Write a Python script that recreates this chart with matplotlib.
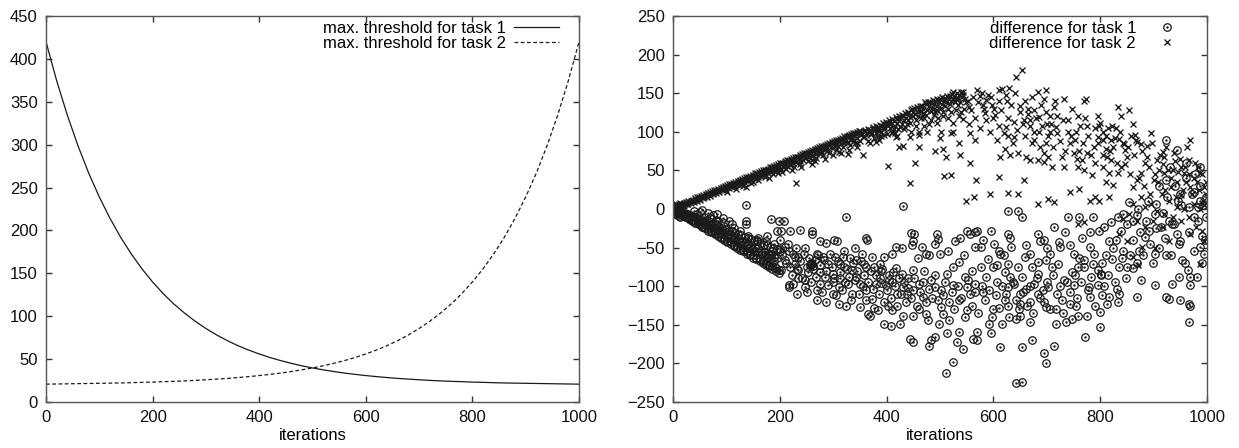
import matplotlib
matplotlib.use("Agg")
import matplotlib.pyplot as plt
from matplotlib.legend_handler import HandlerTuple

plt.rcParams['font.family'] = ['Liberation Sans', 'DejaVu Sans']
plt.rcParams['font.size'] = 12

INK = '#1a1a1a'

# left panel: maximum thresholds, sampled every 20 iterations
thr_iter = list(range(0, 1001, 20))
thr_task1 = [420, 374.6, 334.4, 298.7, 267.0, 239.0, 214.2, 192.1, 172.6, 155.3,
             139.9, 126.3, 114.2, 103.6, 94.1, 85.7, 78.2, 71.6, 65.7, 60.6,
             56.0, 51.9, 48.3, 45.1, 42.2, 39.7, 37.5, 35.5, 33.7, 32.2,
             30.8, 29.6, 28.5, 27.5, 26.7, 25.9, 25.2, 24.6, 24.1, 23.7,
             23.2, 22.9, 22.5, 22.2, 22.0, 21.8, 21.6, 21.4, 21.2, 21.0, 20.8]
thr_task2 = thr_task1[::-1]

# right panel: differences, task 2 (crosses)
d2_origin = [(0, 0), (1, 2), (2, -2), (3, 4), (4, 1), (5, 6), (6, -3), (7, 2), (8, 4),
             (9, -1), (10, 5), (11, -4), (12, 7), (13, 2), (14, 8), (15, -2), (16, 3)]
d2_band = [(0, 0), (2, 1), (4, 1), (6, 2), (8, 2), (10, 3), (12, 3), (14, 4), (16, 5),
           (18, 5), (20, 6), (23, 7), (26, 7), (29, 8), (32, 9), (35, 10), (38, 11),
           (41, 12), (44, 12), (47, 13), (50, 14), (54, 15), (58, 16), (62, 18),
           (66, 19), (70, 20), (74, 21), (78, 22), (82, 23), (86, 24), (90, 26),
           (94, 27), (98, 28), (102, 29), (106, 30), (110, 31), (114, 32), (118, 34),
           (122, 35), (126, 36), (130, 37), (134, 38), (138, 39), (142, 40), (146, 42),
           (150, 43), (154, 44), (158, 45), (162, 46), (166, 47), (170, 48), (174, 50),
           (178, 51), (182, 52), (186, 53), (190, 54), (194, 55), (198, 56), (202, 58),
           (206, 59), (210, 60), (214, 61), (218, 62), (222, 63), (226, 64), (230, 66),
           (234, 67), (238, 68), (242, 69), (246, 70), (250, 71), (254, 72), (258, 74),
           (262, 75), (266, 76), (270, 77), (274, 78), (278, 79), (282, 80), (286, 82),
           (290, 83), (294, 84), (298, 85), (302, 86), (306, 87), (310, 88), (314, 90),
           (318, 91), (322, 92), (326, 93), (330, 94), (334, 95), (338, 96), (342, 97),
           (346, 98), (350, 100)]
d2_band_up = [(1, 2), (5, 3), (9, 4), (13, 5), (17, 6), (21, 8), (25, 9), (29, 10),
              (33, 11), (37, 12), (41, 14), (45, 15), (49, 16), (53, 17), (57, 18),
              (61, 19), (65, 21), (69, 22), (73, 23), (77, 24), (81, 25), (85, 26),
              (89, 27), (93, 29), (97, 30), (101, 31), (105, 32), (109, 33), (113, 34),
              (117, 35), (121, 36), (125, 38), (129, 39), (133, 40), (137, 41), (141, 42),
              (145, 43), (149, 44), (153, 46), (157, 47), (161, 48), (165, 49), (169, 50),
              (173, 51), (177, 52), (181, 54), (185, 55), (189, 56), (193, 57), (197, 58),
              (201, 59), (205, 60), (209, 62), (213, 63), (217, 64), (221, 65), (225, 66),
              (229, 67), (233, 68), (237, 70), (241, 71), (245, 72), (249, 73), (253, 74),
              (257, 75), (261, 76), (265, 78), (269, 79), (273, 80), (277, 81), (281, 82),
              (285, 83), (289, 84), (293, 86), (297, 87), (301, 88), (305, 89), (309, 90),
              (313, 91), (317, 92), (321, 94), (325, 95), (329, 96), (333, 97), (337, 98),
              (341, 99), (345, 100), (349, 101)]
d2_band_low = [(3, -1), (9, 1), (15, 3), (21, 4), (27, 6), (33, 8), (39, 9), (45, 11),
               (51, 12), (57, 14), (63, 16), (69, 17), (75, 19), (81, 21), (87, 22),
               (93, 24), (99, 25), (105, 27), (111, 28), (117, 30), (123, 31), (129, 33),
               (135, 34), (141, 36), (147, 38), (153, 39), (159, 41), (165, 43), (171, 44),
               (177, 46), (183, 48), (189, 49), (195, 51), (201, 52), (207, 54), (213, 56),
               (219, 57), (225, 59), (231, 61), (237, 62), (243, 64), (249, 66), (255, 67),
               (261, 69), (267, 71), (273, 72), (279, 74), (285, 76), (291, 77), (297, 79),
               (303, 81), (309, 82), (315, 84), (321, 86), (327, 87), (333, 89), (339, 90),
               (345, 92), (150, 35), (180, 40), (205, 48), (240, 55), (260, 58), (285, 65),
               (300, 70), (315, 73), (330, 76), (345, 80), (340, 86), (265, 62), (136, 29),
               (230, 34), (202, 52), (222, 50), (261, 64), (328, 71), (356, 70), (310, 74),
               (102, 22), (118, 26), (131, 30), (147, 34), (160, 38), (172, 41), (188, 45),
               (197, 47), (212, 52), (226, 55), (238, 58), (252, 62), (268, 66), (281, 70),
               (292, 72), (305, 76), (318, 80), (331, 83), (344, 86), (350, 88), (120, 32),
               (170, 44), (220, 58), (275, 73), (325, 85)]
d2_fan = [(352, 98), (355, 93), (358, 101), (362, 96), (365, 88), (368, 102), (371, 97),
          (374, 104), (377, 92), (380, 99), (383, 106), (386, 101), (389, 95), (392, 108),
          (395, 103), (398, 110), (401, 97), (404, 112), (407, 105), (410, 100), (413, 114),
          (416, 108), (419, 117), (422, 103), (425, 116), (428, 110), (431, 120), (434, 106),
          (437, 118), (440, 124), (443, 112), (446, 128), (449, 120), (452, 131), (455, 115),
          (458, 126), (461, 129), (464, 118), (467, 133), (470, 124), (473, 136), (476, 128),
          (479, 110), (482, 138), (485, 131), (488, 122), (491, 140), (494, 134), (497, 118),
          (500, 142), (503, 136), (506, 126), (509, 144), (512, 138), (515, 130), (518, 146),
          (521, 140), (524, 112), (527, 147), (530, 143), (533, 135), (536, 148), (539, 125),
          (542, 145), (420, 95), (445, 100), (470, 108), (495, 112), (515, 118), (535, 120),
          (460, 96), (385, 90), (380, 87), (369, 85), (384, 93), (402, 56), (424, 80),
          (430, 82), (444, 34), (453, 60), (461, 80), (491, 75), (512, 67), (507, 43),
          (521, 44), (537, 70), (417, 93), (410, 98), (432, 104), (443, 93), (461, 100),
          (484, 115), (495, 128), (469, 123), (502, 100), (506, 78), (521, 98), (536, 85),
          (351, 101), (354, 97), (357, 95), (360, 102), (363, 99), (366, 104), (369, 100),
          (372, 98), (375, 106), (378, 103), (381, 108), (384, 104), (387, 109), (390, 100),
          (393, 111), (396, 106), (399, 113), (402, 108), (405, 115), (408, 110), (411, 117),
          (414, 104), (417, 119), (420, 112), (423, 121), (426, 106), (429, 122), (432, 115),
          (435, 124), (438, 110), (441, 126), (444, 119), (447, 130), (450, 125), (453, 123),
          (456, 132), (459, 121), (462, 134), (465, 127), (468, 130), (471, 138), (474, 122),
          (477, 139), (480, 133), (483, 127), (486, 141), (489, 136), (492, 128), (495, 143),
          (498, 138), (501, 131), (504, 145), (507, 140), (510, 133), (513, 147), (516, 142),
          (519, 136), (522, 149), (525, 143), (528, 138), (531, 150), (534, 144), (537, 139),
          (540, 151), (543, 148), (546, 142), (549, 138), (440, 115), (455, 108), (470, 118),
          (490, 125), (505, 120), (520, 125), (530, 128), (545, 130), (415, 98), (395, 96),
          (475, 100), (500, 92), (525, 100)]
d2_cloud = [(556, 59), (548, 11), (564, 15), (567, 37), (593, 20), (628, 21), (647, 20),
            (658, 38), (610, 42), (612, 67), (621, 78), (628, 95), (610, 108), (602, 130),
            (596, 145), (610, 154), (616, 155), (630, 157), (643, 171), (654, 180),
            (649, 134), (569, 154), (574, 147), (543, 152), (524, 152), (554, 132),
            (543, 117), (587, 141), (584, 124), (554, 110), (557, 98), (565, 89),
            (684, 152), (699, 154), (695, 143), (676, 128), (665, 123), (669, 115),
            (685, 119), (706, 121), (713, 132), (733, 142), (717, 106), (706, 100),
            (691, 108), (676, 100), (658, 115), (639, 113), (624, 106), (639, 93),
            (673, 85), (688, 80), (699, 85), (661, 67), (669, 63), (684, 63), (695, 61),
            (702, 67), (647, 72), (632, 70), (710, 54), (729, 67), (732, 54), (750, 72),
            (743, 85), (739, 115), (758, 121), (754, 100), (776, 108), (773, 143),
            (770, 140), (795, 121), (798, 108), (806, 100), (795, 93), (788, 80),
            (776, 72), (765, 63), (758, 54), (769, 50), (784, 44), (791, 16), (780, 11),
            (743, 22), (761, 26), (684, 7), (702, 13), (713, 9), (798, 11), (811, 35),
            (817, 46), (813, 67), (820, 63), (824, 80), (820, 89), (806, 89), (811, 78),
            (836, 91), (834, 132), (839, 121), (854, 128), (861, 110), (858, 95),
            (847, 76), (851, 67), (839, 54), (833, 46), (824, 31), (817, 16), (861, 28),
            (869, 37), (876, 46), (884, 59), (891, 54), (888, 82), (895, 98), (876, 84),
            (869, 87), (906, 63), (917, 74), (910, 50), (920, 46), (932, 28), (943, 35),
            (936, 50), (951, 54), (957, 46), (966, 63), (969, 89), (960, 35), (969, 28),
            (984, 54), (987, 46), (994, 28), (924, 80), (920, 67), (951, 18), (976, 7),
            (987, 0), (993, 11), (966, -10), (957, 0), (943, 3), (928, 11), (920, -6),
            (906, -2), (895, 7), (876, 16), (884, 3), (861, 7), (854, -6), (869, -15),
            (884, -23), (899, -15), (917, -23), (928, -41), (936, -10), (951, -15),
            (969, -32), (980, -23), (991, -28), (994, -41), (987, -71), (902, -51),
            (879, -49), (871, -73), (861, -62), (850, -41), (836, -32), (843, -13),
            (769, -17), (758, -19), (580, 135), (600, 118), (625, 140), (660, 140),
            (700, 110), (720, 120), (745, 95), (760, 75), (790, 60), (805, 55), (830, 105),
            (845, 84), (866, 96), (900, 38), (915, 20), (940, 62), (975, 40), (998, 20),
            (552, 140), (558, 128), (562, 145), (566, 118), (571, 138), (575, 105),
            (578, 150), (582, 130), (586, 115), (590, 148), (594, 100), (598, 135),
            (603, 122), (607, 90), (611, 140), (615, 128), (620, 98), (624, 148), (628, 118),
            (633, 135), (637, 85), (641, 150), (645, 102), (650, 125), (655, 110), (660, 95),
            (664, 130), (668, 108), (672, 145), (676, 90), (680, 118), (685, 100), (690, 135),
            (694, 72), (698, 125), (703, 95), (707, 110), (712, 80), (716, 140), (720, 98),
            (725, 88), (730, 115), (735, 75), (740, 100), (748, 130), (752, 90), (757, 65),
            (762, 108), (767, 85), (772, 118), (778, 95), (783, 70), (790, 105), (796, 85),
            (800, 112), (805, 70), (810, 95), (815, 105), (819, 75), (823, 108), (827, 92),
            (831, 60), (838, 100), (842, 85), (846, 58), (852, 80), (856, 45), (863, 70),
            (867, 90), (872, 40), (878, 75), (882, 30), (888, 68), (893, 20), (897, 85),
            (902, 45), (908, 35), (912, 70), (918, 58), (922, 25), (927, 50), (933, 40),
            (938, 72), (942, 15), (946, 48), (950, 65), (955, 25), (959, 55), (963, 80),
            (967, 45), (972, 20), (977, 60), (981, 35), (985, 25), (990, 45), (995, 5),
            (998, 35)]

# right panel: differences, task 1 (circles)
d1_origin = [(0, 0), (1, -2), (2, 2), (3, -4), (4, -1), (5, 3), (6, -6), (7, -2), (8, -8),
             (9, 1), (10, -5), (11, -9), (12, -3), (13, -11), (14, -6), (15, 0), (16, -8)]
d1_band = [(1, -1), (3, -1), (5, -2), (7, -3), (9, -2), (11, -5), (13, -4), (15, -6),
           (17, -5), (19, -8), (21, -6), (24, -10), (27, -7), (30, -12), (33, -9), (36, -14),
           (39, -11), (42, -17), (45, -13), (48, -19), (51, -15), (54, -22), (57, -17),
           (60, -24), (63, -19), (66, -26), (69, -21), (72, -29), (75, -23), (78, -31),
           (81, -25), (84, -33), (87, -27), (90, -36), (93, -29), (96, -38), (99, -30),
           (102, -41), (105, -33), (108, -43), (111, -35), (114, -46), (117, -37),
           (120, -48), (123, -39), (126, -51), (129, -41), (132, -53), (135, -43),
           (138, -56), (141, -45), (144, -58), (147, -47), (150, -60), (153, -49),
           (156, -63), (159, -51), (162, -65), (165, -54), (168, -67), (171, -56),
           (174, -70), (177, -58), (180, -72), (183, -60), (186, -74), (189, -62),
           (192, -77), (195, -64), (198, -79)]
d1_band_edges = [(2, 0), (8, -2), (14, -3), (20, -5), (26, -7), (32, -8), (38, -10),
                 (44, -11), (50, -13), (56, -15), (62, -16), (68, -18), (74, -20),
                 (80, -21), (86, -23), (92, -25), (98, -26), (104, -28), (110, -29),
                 (116, -31), (122, -33), (128, -34), (134, -36), (140, -37), (146, -39),
                 (152, -41), (158, -42), (164, -44), (170, -46), (176, -47), (182, -49),
                 (188, -51), (194, -52), (200, -54), (6, -3), (12, -5), (18, -8), (24, -10),
                 (30, -13), (36, -15), (42, -18), (48, -20), (54, -23), (60, -25), (66, -28),
                 (72, -30), (78, -33), (84, -35), (90, -38), (96, -40), (102, -43),
                 (108, -45), (114, -48), (120, -50), (126, -53), (132, -55), (138, -58),
                 (144, -60), (150, -63), (156, -65), (162, -68), (168, -70), (174, -73),
                 (180, -75), (186, -78), (192, -80), (198, -83)]
d1_band_mid = [(4, -2), (10, -4), (16, -6), (22, -8), (28, -10), (34, -12), (40, -14),
               (46, -16), (52, -18), (58, -20), (64, -22), (70, -25), (76, -27), (82, -29),
               (88, -31), (94, -33), (100, -35), (106, -37), (112, -39), (118, -41),
               (124, -43), (130, -46), (136, -48), (142, -50), (148, -52), (154, -54),
               (160, -56), (166, -58), (172, -60), (178, -62), (184, -64), (190, -67),
               (40, -2), (45, -6), (50, -4), (55, -1), (58, -10), (65, -5), (70, -12),
               (75, -8), (85, -15), (95, -18), (110, -20), (115, -25), (125, -28),
               (140, -35), (160, -38), (175, -42), (190, -45), (82, -7), (93, -12),
               (104, -15), (80, -14), (136, 5), (136, -15), (137, -20)]
d1_cloud = [(324, -10), (430, 4), (647, -3), (628, -3), (653, -10), (199, -15), (208, -15),
            (184, -13), (195, -28), (202, -28), (219, -28), (237, -27), (260, -28),
            (261, -32), (201, -40), (176, -35), (158, -40), (302, -40), (308, -41),
            (287, -44), (276, -42), (361, -37), (364, -40), (417, -49), (410, -58),
            (428, -51), (447, -47), (450, -41), (452, -33), (445, -31), (467, -49),
            (473, -58), (459, -63), (495, -32), (496, -39), (500, -58), (491, -45),
            (528, -41), (538, -38), (550, -28), (556, -32), (565, -30), (569, -28),
            (580, -40), (576, -49), (565, -49), (601, -45), (610, -54), (613, -58),
            (595, -28), (628, -32), (632, -38), (633, -49), (628, -71), (606, -73),
            (661, -47), (669, -58), (684, -32), (688, -41), (694, -40), (684, -69),
            (699, -66), (706, -58), (713, -23), (722, -43), (724, -49), (739, -10),
            (743, -47), (750, -58), (765, -38), (758, -75), (761, -64), (769, -66),
            (787, -10), (780, -49), (788, -58), (787, -71), (795, -79), (802, -84),
            (798, -28), (807, -23), (817, -41), (824, -51), (820, -17), (834, -10),
            (839, -28), (840, -64), (843, -6), (854, 9), (861, -15), (869, -8),
            (884, -36), (891, -28), (902, -6), (904, 7), (924, 37), (924, 89), (931, 54),
            (943, 76), (987, 54), (950, 20), (976, 22), (987, 11), (999, 16), (966, 3),
            (984, 3), (913, -23), (928, -15), (943, -32), (950, -41), (954, -66),
            (964, -79), (969, -88), (982, -88), (987, -49), (994, -58), (902, -58),
            (873, -54), (861, -77), (850, -75), (876, -92), (902, -99), (935, -97),
            (924, -60), (924, -114), (929, -116), (966, -123), (966, -146), (969, -125),
            (969, -99), (950, -118), (947, -88), (869, -114), (834, -120), (836, -110),
            (832, -103), (817, -114), (813, -123), (804, -112), (799, -133), (799, -153),
            (802, -86), (779, -101), (780, -114), (776, -138), (771, -166), (754, -125),
            (758, -138), (743, -123), (747, -142), (736, -146), (729, -118), (717, -129),
            (717, -149), (713, -177), (702, -101), (695, -120), (699, -127), (695, -187),
            (699, -200), (684, -110), (676, -97), (669, -120), (669, -146), (673, -170),
            (653, -88), (661, -103), (650, -110), (650, -123), (650, -138), (643, -142),
            (653, -179), (653, -224), (642, -226), (632, -88), (628, -101), (628, -125),
            (621, -118), (616, -149), (613, -179), (599, -75), (599, -129), (595, -161),
            (591, -149), (580, -108), (569, -159), (569, -170), (561, -168), (557, -110),
            (551, -101), (550, -131), (543, -181), (536, -118), (536, -159), (531, -172),
            (524, -99), (517, -144), (513, -161), (524, -198), (511, -213), (502, -105),
            (502, -127), (506, -136), (499, -149), (491, -166), (480, -177), (484, -170),
            (469, -114), (473, -136), (477, -144), (461, -129), (450, -138), (450, -172),
            (443, -168), (450, -105), (439, -110), (426, -149), (431, -138), (410, -131),
            (402, -125), (395, -149), (408, -151), (384, -131), (373, -116), (369, -138),
            (365, -136), (350, -127), (336, -110), (324, -125), (310, -123), (299, -110),
            (287, -120), (269, -118), (250, -108), (247, -92), (217, -99), (224, -97),
            (235, -90), (269, -105), (276, -82), (284, -88), (299, -84), (313, -90),
            (321, -75), (343, -88), (361, -75), (376, -75), (380, -97), (387, -90),
            (399, -99), (410, -95), (417, -77), (428, -84), (431, -101), (450, -79),
            (461, -97), (484, -92), (491, -101), (513, -84), (524, -75), (536, -69),
            (547, -88), (565, -97), (576, -75), (587, -88), (606, -95), (621, -82),
            (639, -97), (647, -75), (673, -75), (684, -84), (710, -75), (721, -71),
            (732, -92), (747, -82), (750, -99), (210, -49), (224, -58), (235, -62),
            (247, -51), (258, -71), (269, -58), (280, -62), (291, -71), (304, -62),
            (313, -71), (332, -64), (343, -66), (354, -58), (357, -71), (372, -62),
            (387, -71), (395, -62), (219, -75), (228, -71), (210, -66), (202, -79),
            (191, -75), (180, -73), (169, -66), (235, -79), (250, -75), (261, -71),
            (265, -66), (299, -95), (310, -101), (328, -97), (336, -79), (350, -97),
            (361, -105), (276, -97), (247, -101), (233, -110), (217, -101), (256, -73),
            (259, -70), (262, -74), (180, -60), (185, -55), (200, -52), (215, -45),
            (230, -50), (320, -55), (340, -50), (390, -80), (405, -85), (420, -110),
            (440, -90), (470, -80), (480, -60), (515, -55), (545, -60), (560, -80),
            (590, -65), (620, -60), (660, -62), (700, -50), (735, -30), (760, -10),
            (780, -30), (810, -60), (830, -40), (850, -20), (870, 0), (890, 10),
            (910, 30), (935, -20), (945, 10), (960, 40), (975, -10), (990, -35)]
d1_cloud_dense = [(205, -60), (212, -70), (218, -55), (222, -85), (228, -62), (232, -78),
                  (238, -68), (242, -90), (246, -58), (252, -82), (255, -64), (258, -95),
                  (263, -78), (267, -88), (272, -60), (275, -72), (279, -108), (283, -66),
                  (286, -80), (290, -98), (294, -58), (297, -75), (301, -90), (305, -112),
                  (309, -68), (312, -82), (316, -105), (319, -62), (323, -95), (326, -78),
                  (330, -88), (334, -118), (337, -70), (341, -92), (345, -80), (348, -110),
                  (352, -68), (355, -100), (358, -86), (362, -118), (366, -94), (370, -80),
                  (374, -104), (377, -128), (381, -86), (385, -110), (389, -96), (392, -78),
                  (396, -120), (400, -105), (404, -92), (408, -115), (412, -82), (416, -100),
                  (419, -125), (423, -90), (427, -110), (433, -95), (437, -120), (441, -102),
                  (446, -115), (452, -90), (456, -125), (463, -108), (468, -95), (474, -120),
                  (479, -103), (485, -115), (490, -85), (496, -118), (505, -112), (510, -95),
                  (516, -120), (522, -108), (527, -130), (533, -100), (540, -115),
                  (546, -140), (553, -92), (560, -125), (566, -108), (572, -135), (578, -100),
                  (585, -118), (592, -105), (597, -140), (604, -112), (610, -128),
                  (617, -100), (623, -110), (630, -140), (636, -95), (642, -118), (648, -130),
                  (655, -108), (662, -125), (668, -100), (675, -135), (681, -90), (688, -115),
                  (693, -105), (700, -95), (706, -130), (712, -85), (719, -110), (725, -100),
                  (731, -135), (738, -95), (744, -108), (752, -85), (757, -115), (764, -95),
                  (770, -75), (777, -105), (783, -88), (790, -125), (796, -98), (803, -70),
                  (808, -100), (815, -85), (822, -65), (828, -95), (835, -75), (842, -55),
                  (848, -90), (856, -60), (862, -40), (868, -70), (875, -30), (880, -60),
                  (886, -15), (893, -45), (898, -70), (905, -25), (911, -50), (917, -5),
                  (922, -38), (926, 15), (932, -60), (938, -20), (941, 30), (947, -45),
                  (952, 5), (958, -70), (961, 60), (966, -30), (971, 20), (975, -55),
                  (978, 45), (983, -15), (986, 30), (990, -70), (993, 5), (996, -40),
                  (999, -10)]


def unzip(*groups):
    pts = [p for g in groups for p in g]
    return [p[0] for p in pts], [p[1] for p in pts]


fig = plt.figure(figsize=(12.39, 4.48), dpi=100)
ax1 = fig.add_axes([46 / 1239, 46 / 448, 533 / 1239, 386 / 448])
ax2 = fig.add_axes([673 / 1239, 46 / 448, 534 / 1239, 386 / 448])

ax1.plot(thr_iter, thr_task1, color=INK, lw=0.9, label='max. threshold for task 1')
ax1.plot(thr_iter, thr_task2, color=INK, lw=0.9, linestyle=(0, (3, 2)),
         label='max. threshold for task 2')
ax1.set_xlim(0, 1000)
ax1.set_ylim(0, 450)
ax1.set_yticks(range(0, 451, 50))
ax1.legend(loc='upper right', bbox_to_anchor=(0.9625, 0.988), frameon=False,
           markerfirst=False, handlelength=2.7, handletextpad=0.5,
           borderaxespad=0, borderpad=0, labelspacing=0.0)

x1, y1 = unzip(d1_origin, d1_band, d1_band_edges, d1_band_mid, d1_cloud, d1_cloud_dense)
x2, y2 = unzip(d2_origin, d2_band, d2_band_up, d2_band_low, d2_fan, d2_cloud)
c_ring, = ax2.plot(x1, y1, linestyle='none', marker='o', ms=5.4, mfc='none',
                   mec=INK, mew=0.9)
c_dot, = ax2.plot(x1, y1, linestyle='none', marker='.', ms=1.5, color=INK)
cross, = ax2.plot(x2, y2, linestyle='none', marker='x', ms=5.0, mew=0.95, color=INK)
ax2.set_xlim(0, 1000)
ax2.set_ylim(-250, 250)
ax2.set_yticks(range(-250, 251, 50))
ax2.legend([(c_ring, c_dot), cross], ['difference for task 1', 'difference for task 2'],
           handler_map={tuple: HandlerTuple(ndivide=1)},
           loc='upper right', bbox_to_anchor=(0.967, 0.988), frameon=False,
           markerfirst=False, handlelength=2.7, handletextpad=0.5, numpoints=1,
           borderaxespad=0, borderpad=0, labelspacing=0.0)

for ax in (ax1, ax2):
    ax.set_xticks(range(0, 1001, 200))
    ax.set_xlabel('iterations', labelpad=2)
    ax.tick_params(direction='in', length=4, width=1, top=True, right=True,
                   colors='#333333', labelcolor='#111111', pad=6)
    for s in ax.spines.values():
        s.set_color('#555555')
        s.set_linewidth(1)

fig.savefig('out.png', dpi=100)
